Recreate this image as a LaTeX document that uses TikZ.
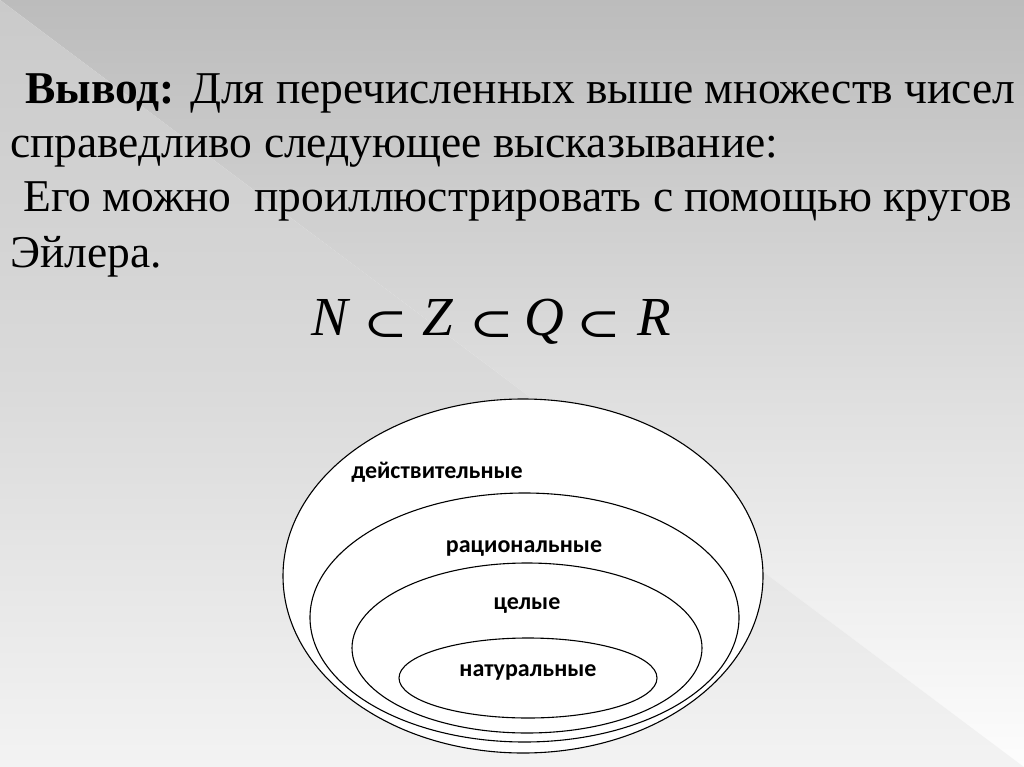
\documentclass[tikz,border=0pt]{standalone}
\usepackage{fontspec}
\setmainfont{Liberation Serif}
\newfontfamily\lblfont{Carlito}
\newfontfamily\symfont{DejaVu Serif}
\usetikzlibrary{}
\tikzset{
  txt/.style={anchor=base west, inner sep=0pt, font=\fontsize{45.5}{54}\selectfont},
  mathlet/.style={anchor=base west, inner sep=0pt, font=\fontsize{55}{60}\selectfont\itshape},
  subs/.style={anchor=base, inner sep=0pt, font=\symfont\fontsize{41}{44}\selectfont},
  setell/.style={draw=black, fill=white, line width=1.1pt},
  lbl/.style={anchor=base, inner sep=0pt, font=\lblfont\bfseries\fontsize{24}{26}\selectfont}
}
\newcommand{\mysubset}{\scalebox{1.3}[1]{⊂}}
\begin{document}
\begin{tikzpicture}[x=1pt,y=-1pt]
\useasboundingbox (0,0) rectangle (1024,767);
% background
\shade[top color={rgb,255:red,188;green,188;blue,188}, bottom color={rgb,255:red,253;green,253;blue,253}, middle color={rgb,255:red,222;green,222;blue,222}]
  (0,0) -- (1024,0) -- (1024,767) -- cycle;
\shade[top color={rgb,255:red,202;green,202;blue,202}, bottom color={rgb,255:red,243;green,243;blue,243}, middle color={rgb,255:red,218;green,218;blue,218}]
  (0,0) -- (1024,767) -- (0,767) -- cycle;
% text
\node[txt] (l1) at (25,104) {\textbf{Вывод:} Для перечисленных выше множеств чисел};
\node[txt] (l2) at (10,158) {справедливо следующее высказывание:};
\node[txt] (l3) at (23,212) {Его можно\ \ проиллюстрировать с помощью кругов};
\node[txt] (l4) at (10,267) {Эйлера.};
% formula
\node[mathlet] (mN) at (311,335) {N};
\node[subs] (s1) at (386,337) {\mysubset};
\node[mathlet] (mZ) at (422,335) {Z};
\node[subs] (s2) at (492,337) {\mysubset};
\node[mathlet] (mQ) at (524,335) {Q};
\node[subs] (s3) at (599,337) {\mysubset};
\node[mathlet] (mR) at (637,335) {R};
% Euler circles
\draw[setell] (523,576) ellipse [x radius=240, y radius=177];
\draw[setell] (524.5,617.5) ellipse [x radius=214.5, y radius=124.5];
\draw[setell] (527,648) ellipse [x radius=175, y radius=85];
\draw[setell] (528,678) ellipse [x radius=129, y radius=40];
\node[lbl] (real) at (437,478) {действительные};
\node[lbl] (rat) at (524,552) {рациональные};
\node[lbl] (int) at (527,609) {целые};
\node[lbl] (nat) at (528,676) {натуральные};
\end{tikzpicture}
\end{document}
